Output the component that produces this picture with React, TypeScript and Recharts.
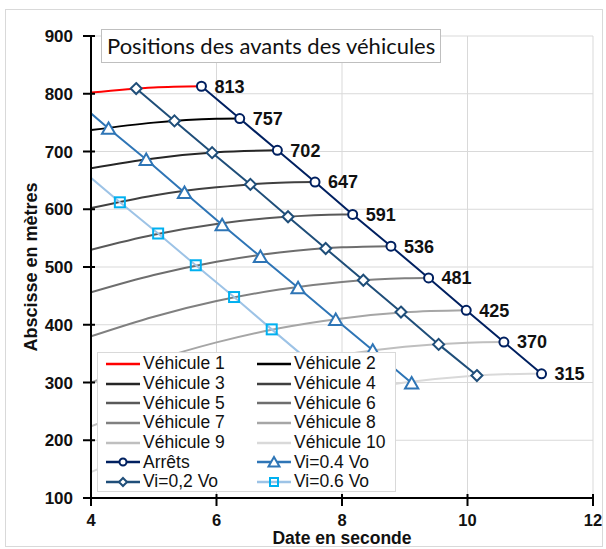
import React from "react";
import { LineChart, Line, XAxis, YAxis, CartesianGrid, Legend, LabelList } from "recharts";

// sample dates (s) used to read the vehicle curves
const sampleTimes = [4, 5, 6, 7, 8, 9, 10, 11];

// positions (m) of each vehicle at the sample dates, before it stops
const vehicle1 = [802, 811];
const vehicle2 = [737, 750, 756.5];
const vehicle3 = [671, 688, 698.5];
const vehicle4 = [602, 624, 638, 646];
const vehicle5 = [530, 556, 574.5, 586, 591];
const vehicle6 = [456, 486, 509, 525, 534];
const vehicle7 = [380, 414, 441, 461, 474, 480.5];
const vehicle8 = [300, 338, 369.5, 394, 411, 421.5];
const vehicle9 = [224, 265, 299, 327, 348, 362, 369];
const vehicle10 = [145, 189, 226, 257, 282, 300, 311, 315];

const vehicleNames = [
  "Véhicule 1", "Véhicule 2", "Véhicule 3", "Véhicule 4", "Véhicule 5",
  "Véhicule 6", "Véhicule 7", "Véhicule 8", "Véhicule 9", "Véhicule 10",
];
const vehicleColors = [
  "#ff0000", "#000000", "#262626", "#404040", "#595959",
  "#6e6e6e", "#808080", "#a6a6a6", "#bfbfbf", "#d9d9d9",
];

// stops ("Arrêts")
const stopTimes = [5.76, 6.37, 6.97, 7.57, 8.17, 8.78, 9.38, 9.98, 10.58, 11.18];
const stopPositions = [813, 757, 702, 647, 591, 536, 481, 425, 370, 315];

// Vi = 0,2 Vo
const vi02Times = [4.72, 5.33, 5.93, 6.54, 7.14, 7.74, 8.34, 8.94, 9.54, 10.15];
const vi02Positions = [809, 753, 698, 643, 587, 532, 477, 422, 366, 312];

// Vi = 0.4 Vo
const vi04Times = [3.68, 4.28, 4.88, 5.49, 6.09, 6.7, 7.3, 7.9, 8.49, 9.11];
const vi04Positions = [796, 740, 686, 629, 573, 518, 464, 409, 356, 299];

// Vi = 0.6 Vo
const vi06Times = [3.85, 4.46, 5.07, 5.67, 6.28, 6.88, 7.48, 8.08];
const vi06Positions = [668, 612, 558, 503, 448, 392, 337, 282];

const xTicks = [4, 6, 8, 10, 12];
const yTicks = [100, 200, 300, 400, 500, 600, 700, 800, 900];

const vehicles = [vehicle1, vehicle2, vehicle3, vehicle4, vehicle5, vehicle6, vehicle7, vehicle8, vehicle9, vehicle10];

const vehicleData = vehicles.map((pos, k) =>
  pos
    .map((y, i) => ({ t: sampleTimes[i], y }))
    .concat({ t: stopTimes[k], y: stopPositions[k] })
);
const zip = (ts: number[], ys: number[]) => ts.map((t, i) => ({ t, y: ys[i] }));
const stopData = zip(stopTimes, stopPositions);
const vi02Data = zip(vi02Times, vi02Positions);
const vi04Data = zip(vi04Times, vi04Positions);
const vi06Data = zip(vi06Times, vi06Positions);

const FONT = "'Liberation Sans', Arial, sans-serif";
const NAVY = "#002060";
const BLUE02 = "#1f4e79";
const BLUE04 = "#2e75b6";
const LINE06 = "#9dc3e6";
const MARK06 = "#00b0f0";

const diamond = (cx: number, cy: number, s: number) =>
  `M${cx},${cy - s}L${cx + s},${cy}L${cx},${cy + s}L${cx - s},${cy}Z`;
const triangle = (cx: number, cy: number, s: number) =>
  `M${cx},${cy - s}L${cx + s * 1.1},${cy + s * 0.9}L${cx - s * 1.1},${cy + s * 0.9}Z`;

const DiamondDot = (p: any) =>
  p.cx == null ? null : (
    <path key={`d${p.index}`} d={diamond(p.cx, p.cy, 5.5)} fill="#fff" stroke={BLUE02} strokeWidth={2} />
  );
const TriangleDot = (p: any) =>
  p.cx == null ? null : (
    <path key={`t${p.index}`} d={triangle(p.cx, p.cy, 6)} fill="#fff" stroke={BLUE04} strokeWidth={2} strokeLinejoin="miter" />
  );
const SquareDot = (p: any) =>
  p.cx == null ? null : (
    <rect key={`s${p.index}`} x={p.cx - 5} y={p.cy - 5} width={10} height={10} fill="none" stroke={MARK06} strokeWidth={2} />
  );

const YTick = (p: any) => (
  <g>
    <line x1={p.x - 6} x2={p.x + 6} y1={p.y} y2={p.y} stroke="#000" strokeWidth={2} />
    <text x={p.x - 16} y={p.y} dy={6} textAnchor="end" fontFamily={FONT} fontWeight="bold" fontSize={17} fill="#111">
      {p.payload.value}
    </text>
  </g>
);
const XTick = (p: any) => (
  <g>
    <line x1={p.x} x2={p.x} y1={p.y - 6} y2={p.y + 6} stroke="#000" strokeWidth={2} />
    <text x={p.x} y={p.y + 26} textAnchor="middle" fontFamily={FONT} fontWeight="bold" fontSize={16.5} fill="#111">
      {p.payload.value}
    </text>
  </g>
);

type LegendItem = { name: string; color: string; marker?: "circle" | "diamond" | "triangle" | "square" };
const legendItems: LegendItem[] = [
  ...vehicleNames.map((name, i) => ({ name, color: vehicleColors[i] })),
  { name: "Arrêts", color: NAVY, marker: "circle" },
  { name: "Vi=0.4 Vo", color: BLUE04, marker: "triangle" },
  { name: "Vi=0,2 Vo", color: BLUE02, marker: "diamond" },
  { name: "Vi=0.6 Vo", color: LINE06, marker: "square" },
];

const Swatch = ({ item }: { item: LegendItem }) => (
  <svg width={34} height={14} style={{ flex: "none" }}>
    <line x1={0} x2={34} y1={7} y2={7} stroke={item.color} strokeWidth={2.5} />
    {item.marker === "circle" && <circle cx={17} cy={7} r={3.5} fill="#fff" stroke={NAVY} strokeWidth={2} />}
    {item.marker === "diamond" && <path d={diamond(17, 7, 4)} fill="#fff" stroke={BLUE02} strokeWidth={2} />}
    {item.marker === "triangle" && <path d={triangle(17, 7, 5)} fill="#fff" stroke={BLUE04} strokeWidth={2} />}
    {item.marker === "square" && <rect x={13} y={3} width={8} height={8} fill="none" stroke={MARK06} strokeWidth={2} />}
  </svg>
);

const LegendBox = () => (
  <div
    style={{
      display: "grid",
      gridTemplateColumns: "151px 148px",
      gridAutoRows: "19.7px",
      padding: "1px 0 0 8px",
      fontFamily: FONT,
      fontSize: 17.5,
      color: "#111",
    }}
  >
    {legendItems.map((item) => (
      <div key={item.name} style={{ display: "flex", alignItems: "center", whiteSpace: "nowrap" }}>
        <Swatch item={item} />
        <span style={{ marginLeft: 3 }}>{item.name}</span>
      </div>
    ))}
  </div>
);

export default function App() {
  return (
    <div style={{ position: "absolute", left: 0, top: 0, width: 606, height: 549, background: "#fff" }}>
      <div
        style={{
          position: "absolute", left: 5, top: 9, width: 598, height: 538,
          border: "1px solid #d9d9d9", boxSizing: "border-box",
        }}
      />
      <LineChart width={606} height={549} margin={{ top: 36, right: 13, bottom: 0, left: 31 }}>
        <CartesianGrid stroke="#d9d9d9" strokeWidth={1} />
        <XAxis
          type="number"
          dataKey="t"
          domain={[4, 12]}
          ticks={xTicks}
          allowDataOverflow
          height={51}
          axisLine={{ stroke: "#000", strokeWidth: 2 }}
          tickLine={false}
          tickSize={0}
          tick={<XTick />}
          label={{
            content: (props: any) => {
              const vb = props.viewBox;
              return (
                <text x={vb.x + vb.width / 2} y={vb.y + 46} textAnchor="middle" fontFamily={FONT} fontWeight="bold" fontSize={17.5} fill="#111">
                  Date en seconde
                </text>
              );
            },
          }}
        />
        <YAxis
          type="number"
          domain={[100, 900]}
          ticks={yTicks}
          allowDataOverflow
          width={60}
          axisLine={{ stroke: "#000", strokeWidth: 2 }}
          tickLine={false}
          tickSize={0}
          tick={<YTick />}
          label={{
            content: (props: any) => {
              const vb = props.viewBox;
              const x = vb.x + 6;
              const y = vb.y + vb.height / 2;
              return (
                <text x={x} y={y} transform={`rotate(-90, ${x}, ${y})`} textAnchor="middle" fontFamily={FONT} fontWeight="bold" fontSize={18} fill="#111">
                  Abscisse en mètres
                </text>
              );
            },
          }}
        />
        {vehicleData.map((d, i) => (
          <Line
            key={vehicleNames[i]}
            data={d}
            dataKey="y"
            name={vehicleNames[i]}
            type="monotone"
            stroke={vehicleColors[i]}
            strokeWidth={2}
            dot={false}
            activeDot={false}
            isAnimationActive={false}
          />
        ))}
        <Line
          data={stopData}
          dataKey="y"
          name="Arrêts"
          type="linear"
          stroke={NAVY}
          strokeWidth={2}
          dot={{ r: 4.5, fill: "#fff", stroke: NAVY, strokeWidth: 2 }}
          activeDot={false}
          isAnimationActive={false}
        >
          <LabelList dataKey="y" position="right" offset={13} fill="#111" fontFamily={FONT} fontWeight="bold" fontSize={18} />
        </Line>
        <Line
          data={vi04Data}
          dataKey="y"
          name="Vi=0.4 Vo"
          type="linear"
          stroke={BLUE04}
          strokeWidth={2}
          dot={TriangleDot}
          activeDot={false}
          isAnimationActive={false}
        />
        <Line
          data={vi02Data}
          dataKey="y"
          name="Vi=0,2 Vo"
          type="linear"
          stroke={BLUE02}
          strokeWidth={2}
          dot={DiamondDot}
          activeDot={false}
          isAnimationActive={false}
        />
        <Line
          data={vi06Data}
          dataKey="y"
          name="Vi=0.6 Vo"
          type="linear"
          stroke={LINE06}
          strokeWidth={2}
          dot={SquareDot}
          activeDot={false}
          isAnimationActive={false}
        />
        <Legend
          layout="horizontal"
          verticalAlign="middle"
          align="center"
          content={() => <LegendBox />}
          wrapperStyle={{
            left: 97, top: 352, width: 299, height: 140,
            background: "#fff", border: "1px solid #d9d9d9", boxSizing: "border-box",
          }}
        />
      </LineChart>
      <div
        style={{
          position: "absolute", left: 101, top: 29, width: 340, height: 34,
          background: "#fff", border: "1px solid #bfbfbf", boxSizing: "border-box",
          fontFamily: "Lato, sans-serif", fontSize: 22, color: "#111",
          lineHeight: "32px", paddingLeft: 5, whiteSpace: "nowrap",
        }}
      >
        Positions des avants des véhicules
      </div>
    </div>
  );
}
